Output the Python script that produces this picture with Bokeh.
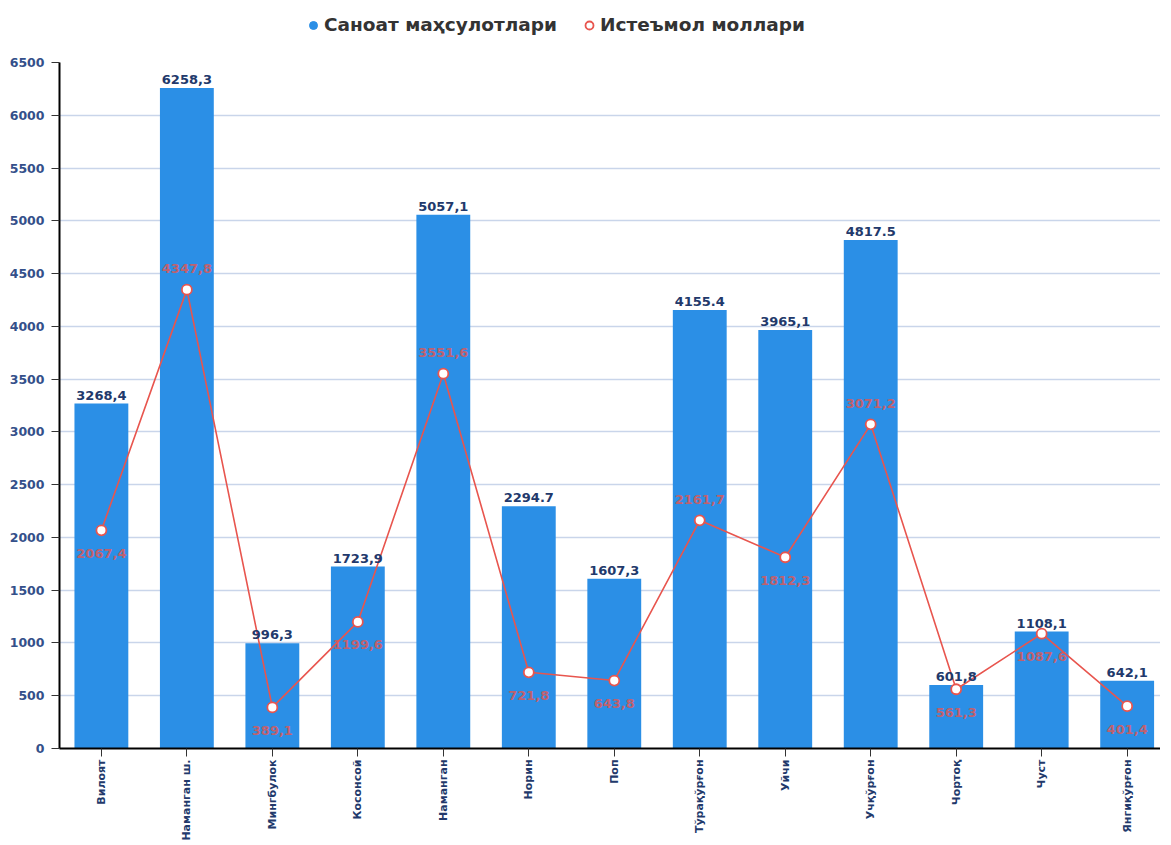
import math
from bokeh.plotting import figure
from bokeh.layouts import column
from bokeh.models import ColumnDataSource, FixedTicker, Legend, LegendItem
from bokeh.core.properties import value
from bokeh.embed import file_html
from bokeh.resources import INLINE

categories = ["Вилоят", "Наманган ш.", "Мингбулок", "Косонсой", "Наманган", "Норин", "Поп",
              "Тўрақўрғон", "Уйчи", "Учқўрғон", "Чортоқ", "Чуст", "Янгиқўрғон"]
industrial = [3268.4, 6258.3, 996.3, 1723.9, 5057.1, 2294.7, 1607.3, 4155.4, 3965.1, 4817.5, 601.8, 1108.1, 642.1]
industrial_labels = ["3268,4", "6258,3", "996,3", "1723,9", "5057,1", "2294.7", "1607,3",
                     "4155.4", "3965,1", "4817.5", "601,8", "1108,1", "642,1"]
consumer = [2067.4, 4347.8, 389.1, 1199.6, 3551.6, 721.8, 643.8, 2161.7, 1812.3, 3071.2, 561.3, 1087.6, 401.4]
consumer_labels = [f"{v:.1f}".replace(".", ",") for v in consumer]
y_ticks = list(range(0, 6501, 500))
series_names = ["Саноат маҳсулотлари", "Истеъмол моллари"]

# style: which consumer labels go above their point
label_above = [False, True, False, False, True, False, False, True, False, True, False, False, False]

FONT = "DejaVu Sans"
BLUE = "#2b8fe6"
RED = "#e8554e"
NAVY = "#22396b"
FRAME_H = 686
W = 1160

xs = list(range(len(categories)))
src = ColumnDataSource(dict(x=xs, ind=industrial, ind_lab=industrial_labels,
                            con=consumer, con_lab=consumer_labels))
above_idx = [i for i in xs if label_above[i]]
below_idx = [i for i in xs if not label_above[i]]
src_above = ColumnDataSource(dict(x=[xs[i] for i in above_idx], con=[consumer[i] for i in above_idx],
                                  con_lab=[consumer_labels[i] for i in above_idx]))
src_below = ColumnDataSource(dict(x=[xs[i] for i in below_idx], con=[consumer[i] for i in below_idx],
                                  con_lab=[consumer_labels[i] for i in below_idx]))

# ---------- main chart ----------
p = figure(frame_width=1101, frame_height=FRAME_H, x_range=(-0.49, 12.39), y_range=(0, 6500),
           output_backend="svg", toolbar_location=None,
           min_border_left=59, min_border_right=W - 59 - 1101, min_border_top=16, min_border_bottom=6)
p.outline_line_color = None

p.vbar(x="x", top="ind", width=0.63, source=src, fill_color=BLUE, line_color=None)
p.line(x="x", y="con", source=src, line_color=RED, line_width=1.6)
p.scatter(x="x", y="con", source=src, size=10, marker="circle",
          fill_color="white", line_color=RED, line_width=1.8)

p.text(x="x", y="ind", text="ind_lab", source=src, text_align="center", text_baseline="bottom",
       y_offset=-4, text_font=value(FONT), text_font_style="bold", text_font_size="13px",
       text_color=NAVY)
p.text(x="x", y="con", text="con_lab", source=src_above, text_align="center", text_baseline="middle",
       y_offset=-21, text_font=value(FONT), text_font_style="bold", text_font_size="13px",
       text_color=RED, text_alpha=0.8)
p.text(x="x", y="con", text="con_lab", source=src_below, text_align="center", text_baseline="middle",
       y_offset=23, text_font=value(FONT), text_font_style="bold", text_font_size="13px",
       text_color=RED, text_alpha=0.8)

p.xaxis.ticker = FixedTicker(ticks=xs)
p.xaxis.major_label_overrides = {i: c for i, c in enumerate(categories)}
p.xaxis.major_label_orientation = math.pi / 2
p.yaxis.ticker = FixedTicker(ticks=y_ticks)
for ax in (p.xaxis, p.yaxis):
    ax.axis_line_color = "black"
    ax.axis_line_width = 2
    ax.major_tick_line_color = "#333333"
    ax.major_tick_line_width = 1
    ax.major_tick_out = 8
    ax.major_tick_in = 0
    ax.minor_tick_line_color = None
    ax.major_label_text_font = FONT
    ax.major_label_text_font_style = "bold"
    ax.major_label_text_color = NAVY
p.yaxis.major_label_text_font_size = "12.5px"
p.yaxis.major_label_text_color = "#34508a"
p.xaxis.major_label_text_font_size = "11px"
p.xaxis.major_label_standoff = 3
p.yaxis.major_label_standoff = 7

p.xgrid.grid_line_color = None
p.ygrid.grid_line_color = "#c9d5ea"
p.ygrid.grid_line_width = 1.5

# ---------- legend strip ----------
lg = figure(width=W, height=46, x_range=(100, 101), y_range=(100, 101),
            output_backend="svg", toolbar_location=None, min_border=0)
lg.axis.visible = False
lg.grid.grid_line_color = None
lg.outline_line_color = None
dot_ind = lg.scatter(x="x", y="ind", source=src, size=8, marker="circle",
                     fill_color=BLUE, line_color=BLUE)
dot_con = lg.scatter(x="x", y="con", source=src, size=8, marker="circle",
                     fill_color="white", line_color=RED, line_width=1.8)
legend = Legend(items=[LegendItem(label=series_names[0], renderers=[dot_ind]),
                       LegendItem(label=series_names[1], renderers=[dot_con])],
                orientation="horizontal", location=(244, 11), border_line_color=None,
                background_fill_alpha=0, label_text_font=FONT, label_text_font_style="bold",
                label_text_font_size="18.5px", label_text_color="#333333",
                glyph_width=20, glyph_height=20, label_standoff=1, spacing=22, margin=0,
                padding=0, label_height=20)
lg.add_layout(legend, "center")

layout = column(lg, p, spacing=0)
open("out.html", "w").write(file_html(layout, INLINE))
